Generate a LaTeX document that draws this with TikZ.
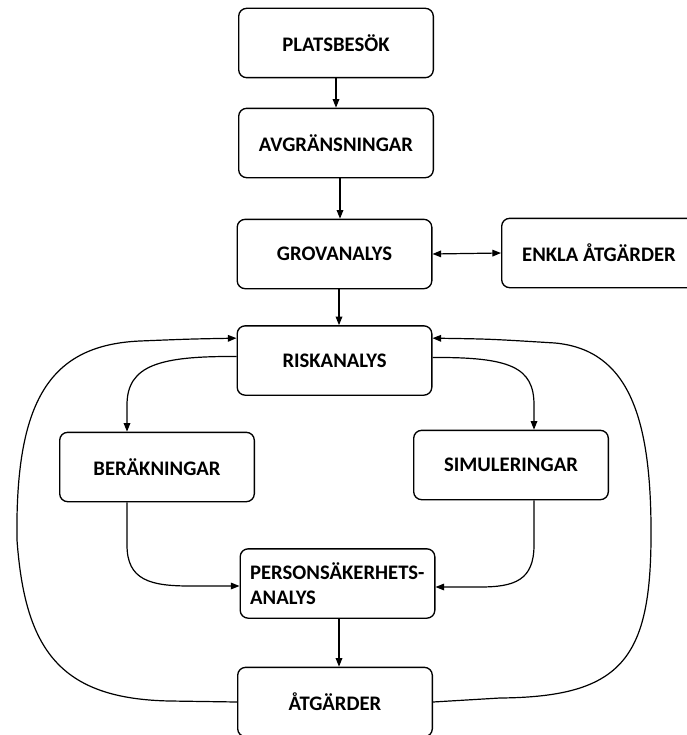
\documentclass[tikz,border=0pt]{standalone}
\usepackage{fontspec}
\setmainfont{Carlito}
\usetikzlibrary{positioning,calc,arrows.meta}

\begin{document}
\begin{tikzpicture}[
    x=0.75pt, y=-0.75pt,
    every node/.style={draw, rectangle, rounded corners=6pt, line width=1pt,
        minimum width=146pt, minimum height=52pt,
        font=\fontsize{15.5}{18.75}\selectfont\bfseries},
    arrow/.style={-{Triangle[length=6.5pt,width=5pt]}, line width=0.9pt},
    dblarrow/.style={{Triangle[length=6.5pt,width=5pt]}-{Triangle[length=6.5pt,width=5pt]}, line width=0.9pt}
]
\useasboundingbox (0,0) rectangle (686,735);

\node (plats) at (336,43) {PLATSBESÖK};
\node (avgr) at (336,143) {AVGRÄNSNINGAR};
\node (grov) at (334.5,254) {GROVANALYS};
\node (enkla) at (599,253) {ENKLA ÅTGÄRDER};
\node (risk) at (334.5,360.5) {RISKANALYS};
\node (berak) at (157,467) {BERÄKNINGAR};
\node (simul) at (511,465) {SIMULERINGAR};
\node[align=left, text width=131pt, inner xsep=7.5pt] (pers) at (337.5,583.5) {PERSONSÄKERHETS-\\ANALYS};
\node (atg) at (335,702) {ÅTGÄRDER};

% main column
\draw[arrow] (plats) -- (avgr);
\draw[arrow] ($(avgr.south)+(4,0)$) -- ($(grov.north)+(5.5,0)$);
\draw[arrow] ($(grov.south)+(4.5,0)$) -- ($(risk.north)+(4.5,0)$);
\draw[dblarrow] (grov.east) -- (enkla.west);
\draw[arrow] ($(pers.south)+(1.5,0)$) -- ($(atg.north)+(4,0)$);

% branches
\draw[arrow] ($(risk.west)+(0,-4)$) .. controls (160,356) and (127,365) .. (127,405) -- ($(berak.north)+(-30,0)$);
\draw[arrow] ($(risk.east)+(0,-3)$) .. controls (510,357) and (534,367) .. (534,405) -- ($(simul.north)+(23,0)$);
\draw[arrow] ($(berak.south)+(-30,0)$) -- (127,545) .. controls (127,580) and (150,586) .. (190,586) -- ($(pers.west)+(0,2.5)$);
\draw[arrow] ($(simul.south)+(23,0)$) -- (534,545) .. controls (534,580) and (515,587) .. (480,587) -- ($(pers.east)+(0,3.5)$);

% feedback loops
\draw[arrow] (atg.west) -- (170,701) .. controls (60,699) and (25,650) .. (17,540)
    .. controls (15,400) and (50,345) .. (140,341) .. controls (190,339) .. ($(risk.north west)+(0,13)$);
\draw[arrow] (atg.east) -- (500,698) .. controls (620,697) and (650,660) .. (651,540)
    .. controls (652,420) and (630,350) .. (555,343) .. controls (490,339) .. ($(risk.north east)+(0,13)$);
\end{tikzpicture}
\end{document}
